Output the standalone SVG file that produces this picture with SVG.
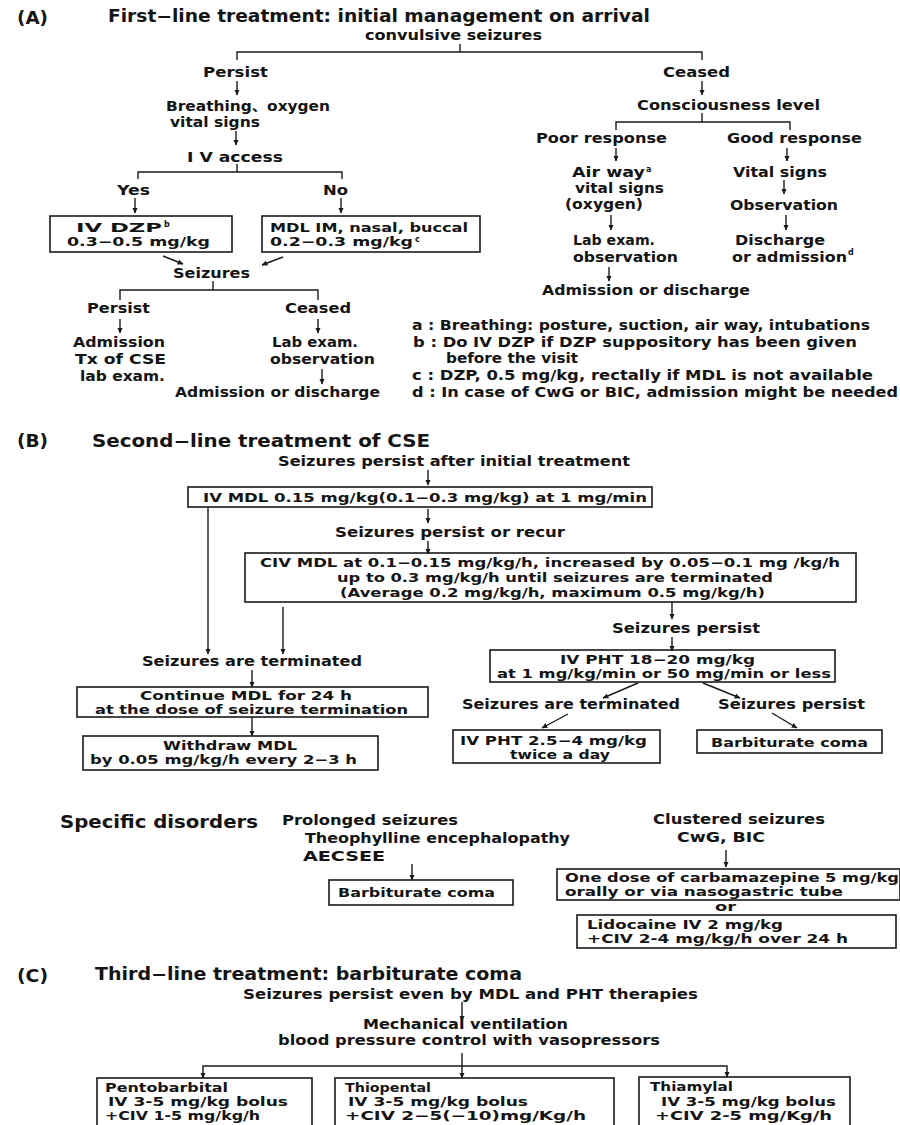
<svg xmlns="http://www.w3.org/2000/svg" width="900" height="1125" viewBox="0 0 900 1125">
<defs>
<style>
text{font-family:"DejaVu Sans","Noto Sans CJK JP",sans-serif;font-weight:bold;font-size:13.5px;fill:#141414}
.hd{font-size:17px}
.sm{font-size:12px}
.sup{font-size:8px}
.bx{fill:none;stroke:#1a1a1a;stroke-width:1.6}
.ln{fill:none;stroke:#1a1a1a;stroke-width:1.4}
.ar{marker-end:url(#ah)}
</style>
<marker id="ah" viewBox="0 0 10 10" refX="9" refY="5" markerWidth="6" markerHeight="6" markerUnits="userSpaceOnUse" orient="auto"><path d="M0,0.5 L10,5 L0,9.5 z" fill="#1a1a1a"/></marker>
</defs>
<rect width="900" height="1125" fill="#fff"/>

<g id="connectors">
<path class="ln" d="M460,44 V52 M237,60 V52 H702 V60"/>
<line class="ln ar" x1="237" y1="81" x2="237" y2="95"/>
<line class="ln ar" x1="236" y1="131" x2="236" y2="145"/>
<path class="ln" d="M237,164 V172 M138,179 V172 H342 V179"/>
<line class="ln ar" x1="135" y1="198" x2="135" y2="213"/>
<line class="ln ar" x1="341" y1="198" x2="341" y2="213"/>
<line class="ln ar" x1="163" y1="256" x2="183" y2="264"/>
<line class="ln ar" x1="283" y1="257" x2="262" y2="265"/>
<path class="ln" d="M213,281 V290 M120,300 V290 H318 V300"/>
<line class="ln ar" x1="120" y1="319" x2="120" y2="333"/>
<line class="ln ar" x1="318" y1="319" x2="318" y2="333"/>
<line class="ln ar" x1="322" y1="369" x2="322" y2="384"/>
<line class="ln ar" x1="702" y1="81" x2="702" y2="95"/>
<path class="ln" d="M702,113 V122 M616,130 V122 H790 V130"/>
<line class="ln ar" x1="616" y1="148" x2="616" y2="161"/>
<line class="ln ar" x1="787" y1="148" x2="787" y2="161"/>
<line class="ln ar" x1="784" y1="180" x2="784" y2="194"/>
<line class="ln ar" x1="611" y1="215" x2="611" y2="230"/>
<line class="ln ar" x1="786" y1="215" x2="786" y2="230"/>
<line class="ln ar" x1="609" y1="267" x2="609" y2="281"/>
<line class="ln ar" x1="428" y1="470" x2="428" y2="485"/>
<line class="ln ar" x1="428" y1="509" x2="428" y2="523"/>
<line class="ln ar" x1="428" y1="541" x2="428" y2="554"/>
<line class="ln ar" x1="208" y1="507" x2="208" y2="654"/>
<line class="ln ar" x1="283" y1="607" x2="283" y2="654"/>
<line class="ln ar" x1="252" y1="670" x2="252" y2="687"/>
<line class="ln ar" x1="252" y1="717" x2="252" y2="736"/>
<line class="ln ar" x1="672" y1="602" x2="672" y2="619"/>
<line class="ln ar" x1="672" y1="637" x2="672" y2="651"/>
<line class="ln ar" x1="638" y1="683" x2="603" y2="698"/>
<line class="ln ar" x1="703" y1="683" x2="740" y2="698"/>
<line class="ln ar" x1="568" y1="714" x2="542" y2="728"/>
<line class="ln ar" x1="772" y1="713" x2="797" y2="728"/>
<line class="ln ar" x1="412" y1="864" x2="412" y2="880"/>
<line class="ln ar" x1="726" y1="850" x2="726" y2="867"/>
<line class="ln ar" x1="462" y1="1002" x2="462" y2="1021"/>
<line class="ln ar" x1="462" y1="1053" x2="462" y2="1078"/>
<path class="ln ar" d="M462,1066 H203 V1078"/>
<path class="ln ar" d="M462,1066 H727 V1077"/>
</g>

<g id="labelA"><text class="hd" x="17" y="24" textLength="31" lengthAdjust="spacingAndGlyphs">(A)</text></g>
<g id="titleA"><text class="hd" x="108" y="22" textLength="542" lengthAdjust="spacingAndGlyphs">First−line treatment: initial management on arrival</text></g>
<g id="convulsive"><text x="365" y="40" textLength="177" lengthAdjust="spacingAndGlyphs">convulsive seizures</text></g>
<g id="persistA"><text x="203" y="77" textLength="65" lengthAdjust="spacingAndGlyphs">Persist</text></g>
<g id="breathing">
<text x="166" y="111" textLength="164" lengthAdjust="spacingAndGlyphs">Breathing、oxygen</text>
<text x="170" y="127" textLength="90" lengthAdjust="spacingAndGlyphs">vital signs</text>
</g>
<g id="ivaccess"><text x="187" y="162" textLength="96" lengthAdjust="spacingAndGlyphs">I V access</text></g>
<g id="yes"><text x="117" y="195" textLength="33" lengthAdjust="spacingAndGlyphs">Yes</text></g>
<g id="no"><text x="323" y="195" textLength="25" lengthAdjust="spacingAndGlyphs">No</text></g>
<g id="ivdzp">
<rect class="bx" x="50" y="216" width="182" height="36"/>
<text class="sm" x="76" y="232" textLength="86" lengthAdjust="spacingAndGlyphs">IV DZP</text>
<text class="sup" x="164" y="227">b</text>
<text class="sm" x="67" y="246" textLength="143" lengthAdjust="spacingAndGlyphs">0.3−0.5 mg/kg</text>
</g>
<g id="mdlim">
<rect class="bx" x="262" y="216" width="218" height="36"/>
<text class="sm" x="270" y="232" textLength="198" lengthAdjust="spacingAndGlyphs">MDL IM, nasal, buccal</text>
<text class="sm" x="270" y="246" textLength="143" lengthAdjust="spacingAndGlyphs">0.2−0.3 mg/kg</text>
<text class="sup" x="415" y="242">c</text>
</g>
<g id="seizuresA"><text x="173" y="278" textLength="77" lengthAdjust="spacingAndGlyphs">Seizures</text></g>
<g id="persistA2"><text x="87" y="313" textLength="63" lengthAdjust="spacingAndGlyphs">Persist</text></g>
<g id="ceasedA2"><text x="285" y="313" textLength="66" lengthAdjust="spacingAndGlyphs">Ceased</text></g>
<g id="admissionTx">
<text x="73" y="347" textLength="92" lengthAdjust="spacingAndGlyphs">Admission</text>
<text x="75" y="364" textLength="91" lengthAdjust="spacingAndGlyphs">Tx of CSE</text>
<text x="80" y="381" textLength="85" lengthAdjust="spacingAndGlyphs">lab exam.</text>
</g>
<g id="labexamA">
<text x="272" y="347" textLength="86" lengthAdjust="spacingAndGlyphs">Lab exam.</text>
<text x="270" y="364" textLength="105" lengthAdjust="spacingAndGlyphs">observation</text>
</g>
<g id="admdischA"><text x="175" y="397" textLength="205" lengthAdjust="spacingAndGlyphs">Admission or discharge</text></g>

<g id="ceasedA"><text x="663" y="77" textLength="67" lengthAdjust="spacingAndGlyphs">Ceased</text></g>
<g id="consciousness"><text x="637" y="110" textLength="183" lengthAdjust="spacingAndGlyphs">Consciousness level</text></g>
<g id="poor"><text x="536" y="143" textLength="131" lengthAdjust="spacingAndGlyphs">Poor response</text></g>
<g id="good"><text x="727" y="143" textLength="135" lengthAdjust="spacingAndGlyphs">Good response</text></g>
<g id="airway">
<text x="572" y="177" textLength="73" lengthAdjust="spacingAndGlyphs">Air way</text>
<text class="sup" x="646" y="172">a</text>
<text x="575" y="193" textLength="89" lengthAdjust="spacingAndGlyphs">vital signs</text>
<text x="565" y="209" textLength="78" lengthAdjust="spacingAndGlyphs">(oxygen)</text>
</g>
<g id="vitalR"><text x="733" y="177" textLength="94" lengthAdjust="spacingAndGlyphs">Vital signs</text></g>
<g id="observationR"><text x="730" y="210" textLength="108" lengthAdjust="spacingAndGlyphs">Observation</text></g>
<g id="labexamR">
<text x="573" y="245" textLength="82" lengthAdjust="spacingAndGlyphs">Lab exam.</text>
<text x="573" y="262" textLength="105" lengthAdjust="spacingAndGlyphs">observation</text>
</g>
<g id="dischargeR">
<text x="735" y="245" textLength="90" lengthAdjust="spacingAndGlyphs">Discharge</text>
<text x="732" y="262" textLength="115" lengthAdjust="spacingAndGlyphs">or admission</text>
<text class="sup" x="848" y="255">d</text>
</g>
<g id="admdischR"><text x="542" y="295" textLength="208" lengthAdjust="spacingAndGlyphs">Admission or discharge</text></g>

<g id="notes">
<text x="412" y="330" textLength="458" lengthAdjust="spacingAndGlyphs">a : Breathing: posture, suction, air way, intubations</text>
<text x="413" y="347" textLength="444" lengthAdjust="spacingAndGlyphs">b : Do IV DZP if DZP suppository has been given</text>
<text x="446" y="363" textLength="132" lengthAdjust="spacingAndGlyphs">before the visit</text>
<text x="412" y="380" textLength="461" lengthAdjust="spacingAndGlyphs">c : DZP, 0.5 mg/kg, rectally if MDL is not available</text>
<text x="412" y="397" textLength="486" lengthAdjust="spacingAndGlyphs">d : In case of CwG or BIC, admission might be needed</text>
</g>

<g id="labelB"><text class="hd" x="17" y="447" textLength="31" lengthAdjust="spacingAndGlyphs">(B)</text></g>
<g id="titleB"><text class="hd" x="92" y="447" textLength="338" lengthAdjust="spacingAndGlyphs">Second−line treatment of CSE</text></g>
<g id="persistAfter"><text x="278" y="466" textLength="352" lengthAdjust="spacingAndGlyphs">Seizures persist after initial treatment</text></g>
<g id="ivmdl">
<rect class="bx" x="188" y="487" width="464" height="20"/>
<text class="sm" x="203" y="502" textLength="444" lengthAdjust="spacingAndGlyphs">IV MDL 0.15 mg/kg(0.1−0.3 mg/kg) at 1 mg/min</text>
</g>
<g id="persistRecur"><text x="335" y="537" textLength="230" lengthAdjust="spacingAndGlyphs">Seizures persist or recur</text></g>
<g id="civmdl">
<rect class="bx" x="245" y="553" width="611" height="49"/>
<text class="sm" x="260" y="567" textLength="580" lengthAdjust="spacingAndGlyphs">CIV MDL at 0.1−0.15 mg/kg/h, increased by 0.05−0.1 mg /kg/h</text>
<text class="sm" x="337" y="582" textLength="436" lengthAdjust="spacingAndGlyphs">up to 0.3 mg/kg/h until seizures are terminated</text>
<text class="sm" x="340" y="597" textLength="425" lengthAdjust="spacingAndGlyphs">(Average 0.2 mg/kg/h, maximum 0.5 mg/kg/h)</text>
</g>
<g id="terminatedL"><text x="142" y="666" textLength="220" lengthAdjust="spacingAndGlyphs">Seizures are terminated</text></g>
<g id="continueMDL">
<rect class="bx" x="77" y="687" width="351" height="30"/>
<text class="sm" x="140" y="700" textLength="212" lengthAdjust="spacingAndGlyphs">Continue MDL for 24 h</text>
<text class="sm" x="95" y="714" textLength="313" lengthAdjust="spacingAndGlyphs">at the dose of seizure termination</text>
</g>
<g id="withdraw">
<rect class="bx" x="83" y="736" width="295" height="34"/>
<text class="sm" x="163" y="750" textLength="134" lengthAdjust="spacingAndGlyphs">Withdraw MDL</text>
<text class="sm" x="90" y="764" textLength="267" lengthAdjust="spacingAndGlyphs">by 0.05 mg/kg/h every 2−3 h</text>
</g>
<g id="persistB"><text x="612" y="633" textLength="148" lengthAdjust="spacingAndGlyphs">Seizures persist</text></g>
<g id="ivpht">
<rect class="bx" x="490" y="650" width="345" height="32"/>
<text class="sm" x="560" y="664" textLength="195" lengthAdjust="spacingAndGlyphs">IV PHT 18−20 mg/kg</text>
<text class="sm" x="497" y="678" textLength="334" lengthAdjust="spacingAndGlyphs">at 1 mg/kg/min or 50 mg/min or less</text>
</g>
<g id="terminatedR"><text x="462" y="709" textLength="218" lengthAdjust="spacingAndGlyphs">Seizures are terminated</text></g>
<g id="persistR"><text x="718" y="709" textLength="147" lengthAdjust="spacingAndGlyphs">Seizures persist</text></g>
<g id="ivpht2">
<rect class="bx" x="453" y="730" width="207" height="33"/>
<text class="sm" x="460" y="745" textLength="187" lengthAdjust="spacingAndGlyphs">IV PHT 2.5−4 mg/kg</text>
<text class="sm" x="510" y="759" textLength="100" lengthAdjust="spacingAndGlyphs">twice a day</text>
</g>
<g id="barbB">
<rect class="bx" x="697" y="730" width="185" height="23"/>
<text class="sm" x="711" y="747" textLength="157" lengthAdjust="spacingAndGlyphs">Barbiturate coma</text>
</g>

<g id="specific"><text class="hd" x="60" y="828" textLength="198" lengthAdjust="spacingAndGlyphs">Specific disorders</text></g>
<g id="prolonged">
<text x="282" y="825" textLength="176" lengthAdjust="spacingAndGlyphs">Prolonged seizures</text>
<text x="305" y="843" textLength="265" lengthAdjust="spacingAndGlyphs">Theophylline encephalopathy</text>
<text x="303" y="861" textLength="82" lengthAdjust="spacingAndGlyphs">AECSEE</text>
</g>
<g id="barbS">
<rect class="bx" x="329" y="880" width="184" height="25"/>
<text class="sm" x="338" y="897" textLength="157" lengthAdjust="spacingAndGlyphs">Barbiturate coma</text>
</g>
<g id="clustered">
<text x="653" y="824" textLength="172" lengthAdjust="spacingAndGlyphs">Clustered seizures</text>
<text x="677" y="842" textLength="88" lengthAdjust="spacingAndGlyphs">CwG, BIC</text>
</g>
<g id="carbamazepine">
<rect class="bx" x="557" y="869" width="343" height="31"/>
<text class="sm" x="565" y="882" textLength="334" lengthAdjust="spacingAndGlyphs">One dose of carbamazepine 5 mg/kg</text>
<text class="sm" x="565" y="896" textLength="278" lengthAdjust="spacingAndGlyphs">orally or via nasogastric tube</text>
</g>
<g id="or"><text class="sm" x="715" y="911" textLength="21" lengthAdjust="spacingAndGlyphs">or</text></g>
<g id="lidocaine">
<rect class="bx" x="577" y="915" width="319" height="33"/>
<text class="sm" x="587" y="929" textLength="196" lengthAdjust="spacingAndGlyphs">Lidocaine  IV 2 mg/kg</text>
<text class="sm" x="587" y="943" textLength="261" lengthAdjust="spacingAndGlyphs">+CIV 2-4 mg/kg/h over 24 h</text>
</g>

<g id="labelC"><text class="hd" x="17" y="982" textLength="31" lengthAdjust="spacingAndGlyphs">(C)</text></g>
<g id="titleC"><text class="hd" x="95" y="980" textLength="427" lengthAdjust="spacingAndGlyphs">Third−line treatment: barbiturate coma</text></g>
<g id="persistEven"><text x="243" y="999" textLength="455" lengthAdjust="spacingAndGlyphs">Seizures persist even by MDL and PHT therapies</text></g>
<g id="mechanical">
<text x="363" y="1029" textLength="205" lengthAdjust="spacingAndGlyphs">Mechanical ventilation</text>
<text x="278" y="1045" textLength="382" lengthAdjust="spacingAndGlyphs">blood pressure control with vasopressors</text>
</g>
<g id="pentobarbital">
<rect class="bx" x="97" y="1078" width="215" height="70"/>
<text class="sm" x="105" y="1092" textLength="123" lengthAdjust="spacingAndGlyphs">Pentobarbital</text>
<text class="sm" x="108" y="1106" textLength="180" lengthAdjust="spacingAndGlyphs">IV 3-5 mg/kg bolus</text>
<text class="sm" x="105" y="1120" textLength="155" lengthAdjust="spacingAndGlyphs">+CIV 1-5 mg/kg/h</text>
</g>
<g id="thiopental">
<rect class="bx" x="335" y="1078" width="279" height="70"/>
<text class="sm" x="345" y="1092" textLength="86" lengthAdjust="spacingAndGlyphs">Thiopental</text>
<text class="sm" x="348" y="1106" textLength="180" lengthAdjust="spacingAndGlyphs">IV 3-5 mg/kg bolus</text>
<text class="sm" x="345" y="1120" textLength="241" lengthAdjust="spacingAndGlyphs">+CIV  2−5(−10)mg/Kg/h</text>
</g>
<g id="thiamylal">
<rect class="bx" x="639" y="1077" width="211" height="70"/>
<text class="sm" x="650" y="1091" textLength="83" lengthAdjust="spacingAndGlyphs">Thiamylal</text>
<text class="sm" x="661" y="1106" textLength="175" lengthAdjust="spacingAndGlyphs">IV 3-5 mg/kg bolus</text>
<text class="sm" x="655" y="1120" textLength="177" lengthAdjust="spacingAndGlyphs">+CIV 2-5 mg/Kg/h</text>
</g>
</svg>
